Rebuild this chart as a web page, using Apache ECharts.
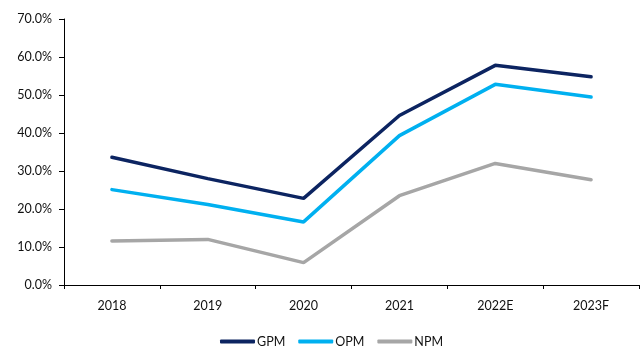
<!DOCTYPE html>
<html><head><meta charset="utf-8">
<script src="https://cdn.jsdelivr.net/npm/echarts@6/dist/echarts.min.js"></script>
<style>html,body{margin:0;padding:0;background:#fff}#c{width:641px;height:347px}</style>
</head><body><div id="c"></div>
<script>
const categories = ['2018','2019','2020','2021','2022E','2023F'];
const gpm = [33.6, 28.0, 22.8, 44.6, 57.8, 54.8];
const opm = [25.1, 21.2, 16.6, 39.3, 52.8, 49.5];
const npm = [11.6, 12.0, 5.9, 23.5, 32.0, 27.7];
const seriesNames = ['GPM','OPM','NPM'];
const colors = ['#0C2461','#00B0F0','#A6A6A6'];

const chart = echarts.init(document.getElementById('c'));
const font = 'Lato, "Open Sans", sans-serif';
chart.setOption({
  animation:false,
  color: colors,
  grid:{left:64,right:2,top:19,bottom:62,containLabel:false},
  legend:{
    data:seriesNames, left:215, top:330,
    icon:'roundRect', itemWidth:35, itemHeight:4, itemGap:13,
    textStyle:{fontFamily:font,fontSize:12.5,color:'#111',padding:[0,0,0,-3]}
  },
  xAxis:{
    type:'category', data:categories, boundaryGap:true,
    axisLine:{lineStyle:{color:'#000',width:1}},
    axisTick:{show:true,length:4,alignWithLabel:false,lineStyle:{color:'#000'}},
    axisLabel:{fontFamily:font,fontSize:12.5,color:'#111',margin:14}
  },
  yAxis:{
    type:'value', min:0, max:70, interval:10,
    splitLine:{show:false},
    axisLine:{show:true,lineStyle:{color:'#000',width:1}},
    axisTick:{show:true,length:5,lineStyle:{color:'#000'}},
    axisLabel:{fontFamily:font,fontSize:12.5,color:'#111',margin:12,formatter:v=>v.toFixed(1)+'%'}
  },
  series:[
    {name:seriesNames[0],type:'line',data:gpm,symbol:'none',lineStyle:{width:3.5,cap:'round'}},
    {name:seriesNames[1],type:'line',data:opm,symbol:'none',lineStyle:{width:3.5,cap:'round'}},
    {name:seriesNames[2],type:'line',data:npm,symbol:'none',lineStyle:{width:3.5,cap:'round'}}
  ]
});
</script></body></html>
